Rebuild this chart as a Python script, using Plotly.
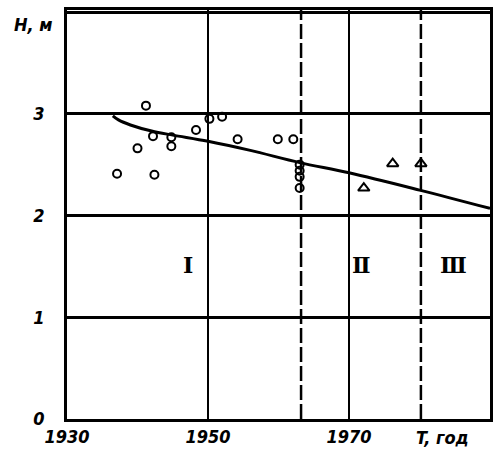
import plotly.graph_objects as go

# observed water depth H (m) by year
circle_years = [1937.1, 1940.0, 1941.2, 1942.2, 1942.4, 1944.8, 1944.8, 1948.3,
                1950.2, 1952.0, 1954.2, 1959.9, 1962.1, 1963.0, 1963.0, 1963.0, 1963.0]
circle_h = [2.41, 2.66, 3.08, 2.78, 2.40, 2.77, 2.68, 2.84,
            2.95, 2.97, 2.75, 2.75, 2.75, 2.50, 2.44, 2.38, 2.27]

triangle_years = [1972.1, 1976.2, 1980.2]
triangle_h = [2.27, 2.51, 2.51]

# fitted trend
trend_years = [1936.5, 1937.3, 1939.0, 1942.0, 1945.0, 1950.0, 1956.0, 1963.0, 1970.0, 1980.0, 1990.0]
trend_h = [2.98, 2.94, 2.89, 2.83, 2.79, 2.73, 2.64, 2.52, 2.42, 2.25, 2.07]

# period boundaries and labels
boundaries = [1963.2, 1980.2]
period_x = [1947.2, 1971.8, 1984.8]
period_labels = ["Ⅰ", "Ⅱ", "Ⅲ"]

x_ticks = [1930, 1950, 1970]
y_ticks = [0, 1, 2, 3, 4]
y_tick_text = ["0", "1", "2", "3", ""]

TICK_FONT = dict(family="Liberation Sans Narrow, DejaVu Sans Condensed, Liberation Sans",
                 size=18, color="black", style="italic", weight="bold")

fig = go.Figure()

fig.add_trace(go.Scatter(
    x=trend_years, y=trend_h, mode="lines",
    line=dict(color="black", width=3, shape="spline"),
    showlegend=False, hoverinfo="skip"
))

fig.add_trace(go.Scatter(
    x=circle_years, y=circle_h, mode="markers",
    marker=dict(symbol="circle-open", size=8, color="black", line=dict(width=2)),
    showlegend=False
))

fig.add_trace(go.Scatter(
    x=triangle_years, y=triangle_h, mode="markers",
    marker=dict(symbol="triangle-up-open", size=10, color="black", line=dict(width=2)),
    showlegend=False
))

for b in boundaries:
    fig.add_vline(x=b, line=dict(color="black", width=2.5, dash="15px,4px"))

for xp, lab in zip(period_x, period_labels):
    fig.add_annotation(x=xp, y=1.51, text=lab, showarrow=False,
                       font=dict(family="DejaVu Serif", size=22, color="black", weight="bold"))

fig.add_annotation(xref="paper", yref="paper", x=-0.08, y=0.965, text="H, м",
                   xanchor="center", yanchor="middle", showarrow=False, font=TICK_FONT)
fig.add_annotation(x=1983.3, xref="x", yref="paper", y=0, yshift=-18, text="T, год",
                   xanchor="center", yanchor="middle", showarrow=False, font=TICK_FONT)

fig.update_layout(
    width=500, height=459,
    margin=dict(l=67, r=10, t=7, b=40),
    paper_bgcolor="white", plot_bgcolor="white",
    xaxis=dict(
        range=[1930, 1990], tickvals=x_ticks, ticks="",
        showgrid=True, gridcolor="black", gridwidth=2,
        showline=True, linecolor="black", linewidth=2.5, mirror=True,
        zeroline=False, tickfont=TICK_FONT, ticklabelstandoff=0
    ),
    yaxis=dict(
        range=[0, 4.02], tickvals=y_ticks, ticktext=y_tick_text, ticks="",
        showgrid=True, gridcolor="black", gridwidth=2.5,
        showline=True, linecolor="black", linewidth=2.5, mirror=True,
        zeroline=False, tickfont=TICK_FONT, ticklabelstandoff=16
    ),
)

# drop the default 8px page margin so the figure sits at the window's corner
fig.write_html("out.html", config={"displayModeBar": False},
               post_script="document.body.style.margin='0';")
